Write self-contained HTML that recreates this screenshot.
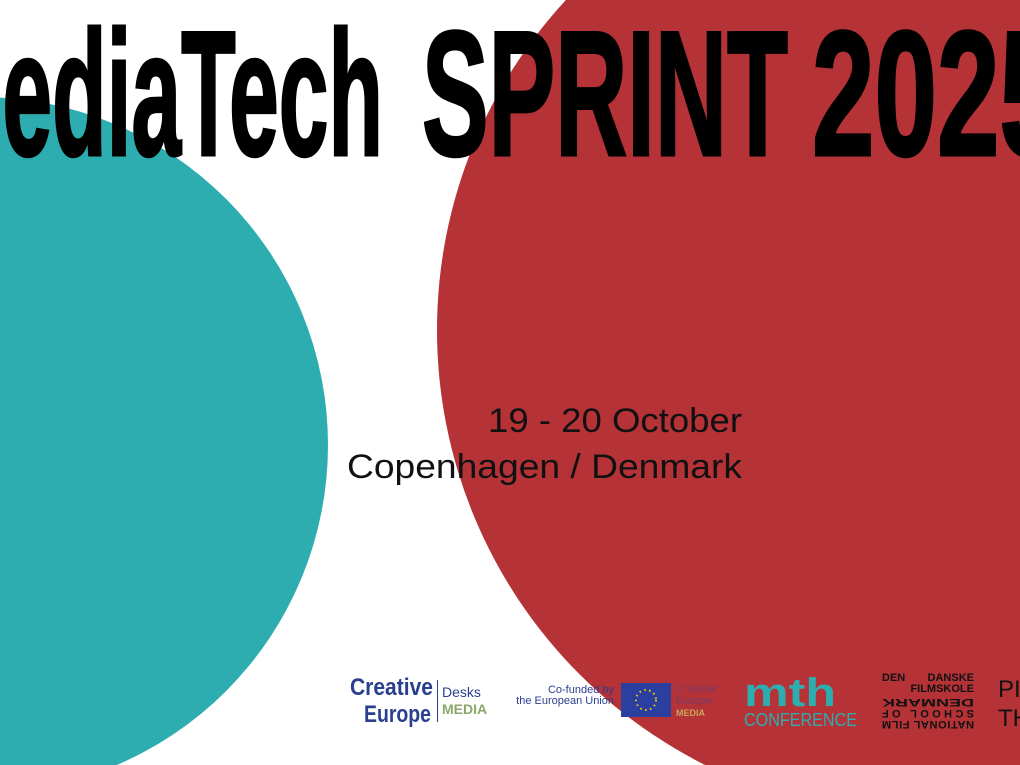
<!DOCTYPE html>
<html><head><meta charset="utf-8"><style>
html,body{margin:0;padding:0;background:#fff;overflow:hidden;width:1020px;height:765px}
</style></head><body>
<svg width="1020" height="765" viewBox="0 0 1020 765" xmlns="http://www.w3.org/2000/svg" style="display:block">
<rect width="1020" height="765" fill="#fff"/>
<circle cx="924" cy="330" r="487" fill="#b53237"/>
<circle cx="-20" cy="445" r="348" fill="#2eadb0"/>
<g font-family="Liberation Sans, sans-serif" font-weight="bold" fill="#000" stroke="#000" stroke-width="3" font-size="178">
<text x="-72" y="155" textLength="455" lengthAdjust="spacingAndGlyphs">MediaTech</text>
<text x="422" y="155" textLength="366" lengthAdjust="spacingAndGlyphs">SPRINT</text>
<text x="812" y="155" textLength="250" lengthAdjust="spacingAndGlyphs">2025</text>
</g>
<g font-family="Liberation Sans, sans-serif" fill="#111" font-size="34">
<text x="488" y="432" textLength="254" lengthAdjust="spacingAndGlyphs">19 - 20 October</text>
<text x="347" y="478" textLength="395" lengthAdjust="spacingAndGlyphs">Copenhagen / Denmark</text>
</g>
<g font-family="Liberation Sans, sans-serif">
<text x="350" y="695" font-weight="bold" font-size="24" fill="#2a3f8f" textLength="83" lengthAdjust="spacingAndGlyphs">Creative</text>
<text x="364" y="722" font-weight="bold" font-size="24" fill="#2a3f8f" textLength="67" lengthAdjust="spacingAndGlyphs">Europe</text>
<rect x="437" y="680" width="1" height="42" fill="#2a3f8f"/>
<text x="442" y="697" font-size="14" fill="#2a3f8f">Desks</text>
<text x="442" y="714" font-size="14" font-weight="bold" fill="#8aa86a">MEDIA</text>
<text x="614" y="693" font-size="11" fill="#2a3f8f" text-anchor="end">Co-funded by</text>
<text x="614" y="704" font-size="11" fill="#2a3f8f" text-anchor="end">the European Union</text>
<rect x="621" y="683" width="50" height="34" fill="#2a3f9f"/>
<circle cx="646" cy="700" r="10" fill="none" stroke="#f5d000" stroke-width="2" stroke-dasharray="1.5 3.5"/>
<text x="676" y="692" font-size="11" fill="#7a3a6a">Creative</text>
<text x="676" y="704" font-size="11" fill="#7a3a6a">Europe</text>
<text x="676" y="716" font-size="9" font-weight="bold" fill="#c9a85a">MEDIA</text>
<text x="744" y="706" font-size="40" font-weight="bold" fill="#2eadb0" textLength="92" lengthAdjust="spacingAndGlyphs">mth</text>
<text x="744" y="726" font-size="18" fill="#2eadb0" textLength="113" lengthAdjust="spacingAndGlyphs">CONFERENCE</text>
<g font-size="11" font-weight="bold" fill="#111">
<text x="882" y="681">DEN</text><text x="974" y="681" text-anchor="end">DANSKE</text>
<text x="974" y="692" text-anchor="end">FILMSKOLE</text>
<text x="928" y="699" text-anchor="middle" transform="rotate(180 928 699)" textLength="92" lengthAdjust="spacingAndGlyphs">DENMARK</text>
<text x="928" y="710" text-anchor="middle" transform="rotate(180 928 710)" textLength="92">SCHOOL OF</text>
<text x="928" y="721" text-anchor="middle" transform="rotate(180 928 721)" textLength="92">NATIONAL FILM</text>
</g>
<text x="998" y="697" font-size="24" fill="#111">PI</text>
<text x="998" y="726" font-size="24" fill="#111">TH</text>
</g>
</svg>
</body></html>
